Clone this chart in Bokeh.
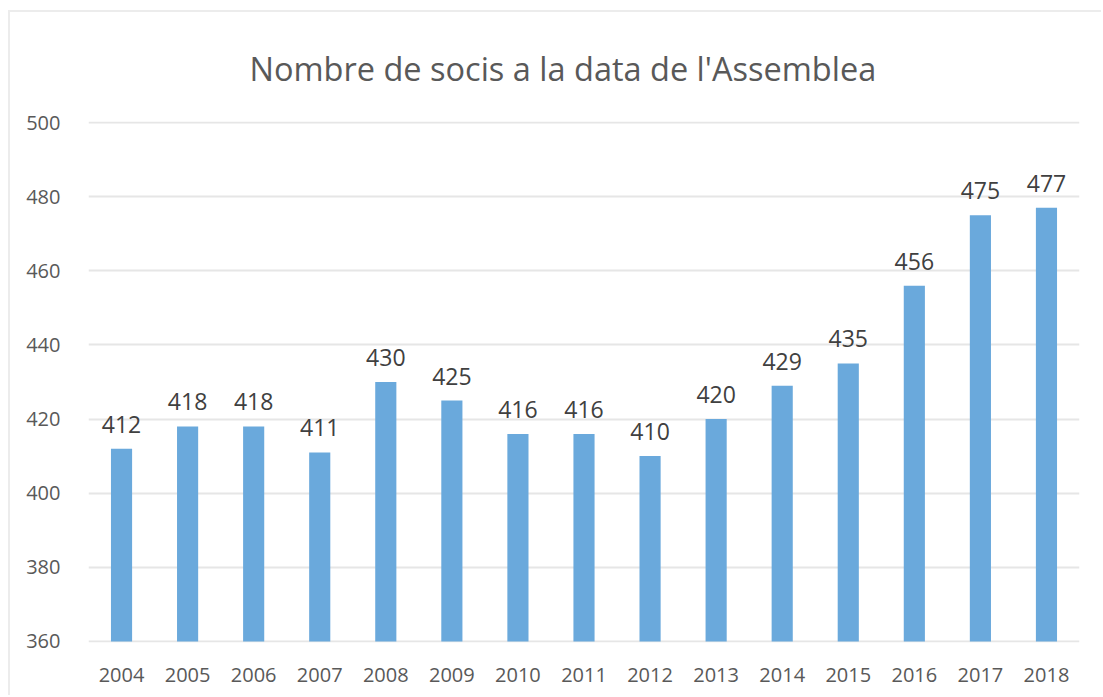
from bokeh.plotting import figure
from bokeh.models import ColumnDataSource, Range1d, FixedTicker
from bokeh.embed import file_html
from bokeh.resources import INLINE
from bokeh.core.properties import value

years = ["2004", "2005", "2006", "2007", "2008", "2009", "2010", "2011",
         "2012", "2013", "2014", "2015", "2016", "2017", "2018"]
members = [412, 418, 418, 411, 430, 425, 416, 416, 410, 420, 429, 435, 456, 475, 477]
y_ticks = [360, 380, 400, 420, 440, 460, 480, 500]

src = ColumnDataSource(dict(year=years, n=members, lbl=[str(v) for v in members]))

FONT = "Open Sans"

p = figure(x_range=years, y_range=Range1d(359.7, 500.3), width=1093, height=685,
           output_backend="svg", toolbar_location=None,
           title="Nombre de socis a la data de l'Assemblea",
           min_border_left=78, min_border_right=24, min_border_top=109, min_border_bottom=55)

p.vbar(x="year", top="n", bottom=360, width=0.32, source=src,
       fill_color="#6AA9DC", line_color=None)
p.text(x="year", y="n", text="lbl", source=src, text_align="center",
       text_baseline="bottom", y_offset=-16, text_font=value(FONT),
       text_font_size="23px", text_color="#404040")

p.title.align = "left"
p.title.text_font = FONT
p.title.text_font_size = "32.5px"
p.title.text_font_style = "normal"
p.title.text_color = "#595959"
p.title.offset = 161
p.title.standoff = 61

p.yaxis.ticker = FixedTicker(ticks=y_ticks)
for ax in (p.xaxis[0], p.yaxis[0]):
    ax.axis_line_color = None
    ax.major_tick_line_color = None
    ax.minor_tick_line_color = None
    ax.major_label_text_font = FONT
    ax.major_label_text_font_size = "20px"
    ax.major_label_text_color = "#595959"
p.yaxis.major_label_standoff = 22
p.xaxis.major_label_standoff = 19

p.xgrid.grid_line_color = None
p.ygrid.grid_line_color = "#e6e6e6"
p.ygrid.grid_line_width = 2
p.outline_line_color = None
p.background_fill_color = "white"
p.border_fill_color = "white"
p.styles = {"border-top": "2px solid #ececec", "border-left": "2px solid #ececec",
            "margin-top": "10px", "margin-left": "8px"}

open("out.html", "w").write(file_html(p, INLINE))
